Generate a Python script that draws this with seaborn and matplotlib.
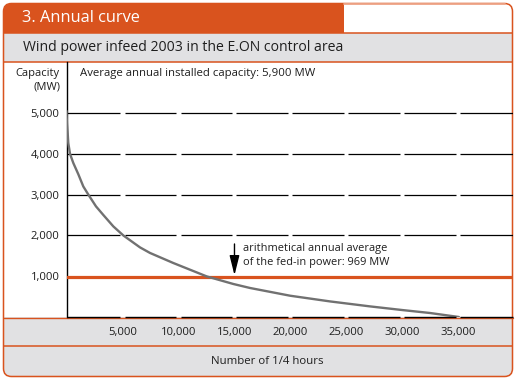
import numpy as np
import pandas as pd
import matplotlib
matplotlib.use("Agg")
import matplotlib.pyplot as plt
import seaborn as sns
from matplotlib.patches import Rectangle, FancyBboxPatch

# ---------------- data ----------------
quarter_hours = [0, 40, 107, 160, 313, 607, 1054, 1500, 1950, 2634, 3290, 4180, 5070,
                 6564, 7455, 9540, 12520, 14900, 16390, 19960, 23530, 27100, 30000,
                 32460, 35040]
capacity_mw = [5050, 4750, 4500, 4265, 4000, 3775, 3500, 3200, 3000, 2711, 2500, 2221,
               2000, 1706, 1570, 1323, 995, 809, 711, 522, 382, 260, 170, 98, 0]
mean_value = 969
x_ticks = [5000, 10000, 15000, 20000, 25000, 30000, 35000]
x_tick_labels = ["5,000", "10,000", "15,000", "20,000", "25,000", "30,000", "35,000"]
y_ticks = [1000, 2000, 3000, 4000, 5000]
y_tick_labels = ["1,000", "2,000", "3,000", "4,000", "5,000"]
title = "3. Annual curve"
subtitle = "Wind power infeed 2003 in the E.ON control area"
installed_note = "Average annual installed capacity: 5,900 MW"
mean_note = "arithmetical annual average\nof the fed-in power: 969 MW"
x_label = "Number of 1/4 hours"
y_label = "Capacity\n(MW)"

df = pd.DataFrame({"quarter_hours": quarter_hours, "capacity": capacity_mw})

sns.set_theme(style="white")
plt.rcParams["font.family"] = ["Open Sans", "DejaVu Sans"]

ORANGE = "#d9531e"
GRAY_BAND = "#e1e1e3"
TEXT = "#1e1e1e"

W, H = 516, 380
fig = plt.figure(figsize=(W / 100, H / 100), dpi=100)
fig.patch.set_facecolor("white")

# overlay axes in pixel coordinates for the frame
bg = fig.add_axes([0, 0, 1, 1], zorder=0)
bg.set_xlim(0, W)
bg.set_ylim(H, 0)
bg.axis("off")

L, R, T, B = 3.5, 512.5, 3.5, 376.5
outer = FancyBboxPatch((L, T), R - L, B - T, boxstyle="round,pad=0,rounding_size=8",
                       facecolor="white", edgecolor="none")
bg.add_patch(outer)
for (y0, y1) in [(33, 62), (317, 377)]:
    r = Rectangle((0, y0), W, y1 - y0, facecolor=GRAY_BAND, edgecolor="none")
    bg.add_patch(r)
    r.set_clip_path(outer)
tb = Rectangle((0, 0), 344, 33, facecolor=ORANGE, edgecolor="none")
bg.add_patch(tb)
tb.set_clip_path(outer)
for y in [33, 62, 346]:
    bg.plot([L, R], [y, y], color=ORANGE, lw=1.1, solid_capstyle="butt")
bg.plot([L, R], [317.6, 317.6], color=ORANGE, lw=1.0)
edge = FancyBboxPatch((L, T), R - L, B - T, boxstyle="round,pad=0,rounding_size=8",
                      facecolor="none", edgecolor=ORANGE, lw=1.1)
bg.add_patch(edge)
# lighter top edge on the right part
bg.plot([344, 505], [T, T], color="#efa88c", lw=1.3)

bg.text(22, 18.5, title, color="white", fontsize=11.8, va="center", ha="left")
bg.text(23, 47.5, subtitle, color=TEXT, fontsize=10.1, va="center", ha="left")
bg.text(60, 80, y_label, color=TEXT, fontsize=8, va="center", ha="right",
        linespacing=1.35)
bg.text(267, 361, x_label, color=TEXT, fontsize=8.2, va="center", ha="center")

# main axes
x0_px, x1_px, y_top, y_bot = 66.5, 513, 62, 317
ax = fig.add_axes([x0_px / W, 1 - y_bot / H, (x1_px - x0_px) / W, (y_bot - y_top) / H],
                  zorder=1)
ax.set_facecolor("none")
xmax = 39870
ax.set_xlim(0, xmax)
ax.set_ylim(0, 6250)

# dashed gridlines with gaps at the tick positions
gap = 180
edges = [0] + x_ticks + [xmax]
segs = []
for a, b in zip(edges[:-1], edges[1:]):
    s = a + gap if a > 0 else 0
    segs.append((s, b - gap if b < xmax else b))
for yv in y_ticks[1:]:
    for s, e in segs:
        ax.plot([s, e], [yv, yv], color="black", lw=0.9, solid_capstyle="butt", zorder=1)
for s, e in segs:
    ax.plot([s, e], [0, 0], color="black", lw=1.0, solid_capstyle="butt",
            zorder=5, clip_on=False)

ax.axhline(mean_value, color=ORANGE, lw=2.3, zorder=3)
sns.lineplot(data=df, x="quarter_hours", y="capacity", ax=ax, color="#717171",
             lw=1.7, zorder=4, estimator=None, sort=False)

for sp in ["top", "right", "bottom"]:
    ax.spines[sp].set_visible(False)
ax.spines["left"].set_color("black")
ax.spines["left"].set_linewidth(1.0)

ax.set_xticks(x_ticks)
ax.set_xticklabels(x_tick_labels)
ax.set_yticks(y_ticks)
ax.set_yticklabels(y_tick_labels)
ax.tick_params(axis="both", length=0, labelsize=8.1, colors=TEXT)
ax.tick_params(axis="y", pad=5)
ax.tick_params(axis="x", pad=7)
ax.set_xlabel("")
ax.set_ylabel("")

ax.text(1250, 5960, installed_note, fontsize=8.2, color=TEXT, va="center", ha="left")
ax.annotate("", xy=(15000, mean_value + 55), xytext=(15000, 1790),
            arrowprops=dict(arrowstyle="-|>,head_length=1.0,head_width=0.25",
                            color="black", lw=1.0, shrinkA=0, shrinkB=0), zorder=6)
ax.text(15800, 1810, mean_note, fontsize=7.9, color=TEXT, va="top", ha="left",
        linespacing=1.35)

fig.savefig("out.png", dpi=100)
